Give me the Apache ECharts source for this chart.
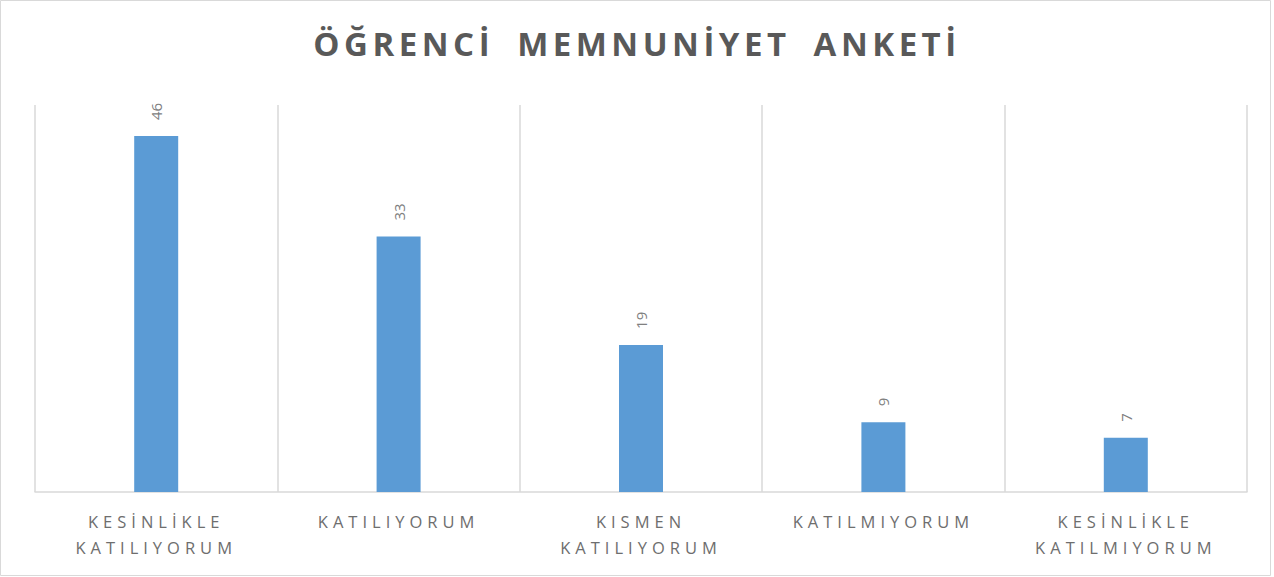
<!DOCTYPE html>
<html><head><meta charset="utf-8">
<script src="https://cdn.jsdelivr.net/npm/echarts@6/dist/echarts.min.js"></script>
<style>
html,body{margin:0;padding:0;background:#fff;}
#chart{width:1274px;height:577px;}
#chart text[style*="33px"], #chart text[font-size="33"]{letter-spacing:4.5px;word-spacing:10px;}
#chart text[style*="16.5px"], #chart text[font-size="16.5"]{letter-spacing:5px;}
</style>
</head><body>
<div id="chart"></div>
<script>
const chartTitle = 'ÖĞRENCİ MEMNUNİYET ANKETİ';
const categories = ['KESİNLİKLE\nKATILIYORUM', 'KATILIYORUM', 'KISMEN\nKATILIYORUM', 'KATILMIYORUM', 'KESİNLİKLE\nKATILMIYORUM'];
const values = [46, 33, 19, 9, 7];
const yMin = 0, yMax = 50;

const chart = echarts.init(document.getElementById('chart'), null, {renderer: 'svg'});
chart.setOption({
  animation: false,
  backgroundColor: '#fff',
  title: {
    text: chartTitle, left: 'center', top: 22,
    textStyle: {fontFamily: 'Open Sans', fontWeight: 'bold', fontSize: 33, color: '#595959'}
  },
  graphic: [{type: 'rect', shape: {x: 0.5, y: 0.5, width: 1270, height: 575}, style: {fill: 'none', stroke: '#d9d9d9', lineWidth: 1}, silent: true}],
  grid: {left: 35, right: 27, top: 105, bottom: 85},
  xAxis: {
    type: 'category', data: categories,
    axisLine: {lineStyle: {color: '#d9d9d9', width: 1.5}},
    axisTick: {show: false},
    splitLine: {show: true, lineStyle: {color: '#d9d9d9', width: 1.5}},
    axisLabel: {margin: 16, fontFamily: 'Open Sans', fontSize: 16.5, color: '#6e6e6e', lineHeight: 26, interval: 0}
  },
  yAxis: {type: 'value', min: yMin, max: yMax, show: false, splitLine: {show: false}},
  series: [{
    type: 'bar', data: values, barWidth: 44,
    itemStyle: {color: '#5B9BD5'},
    label: {show: true, position: 'top', rotate: 90, align: 'left', verticalAlign: 'middle', distance: 16,
      fontFamily: 'Open Sans', fontSize: 15, color: '#808080'}
  }]
});
</script>
</body></html>
